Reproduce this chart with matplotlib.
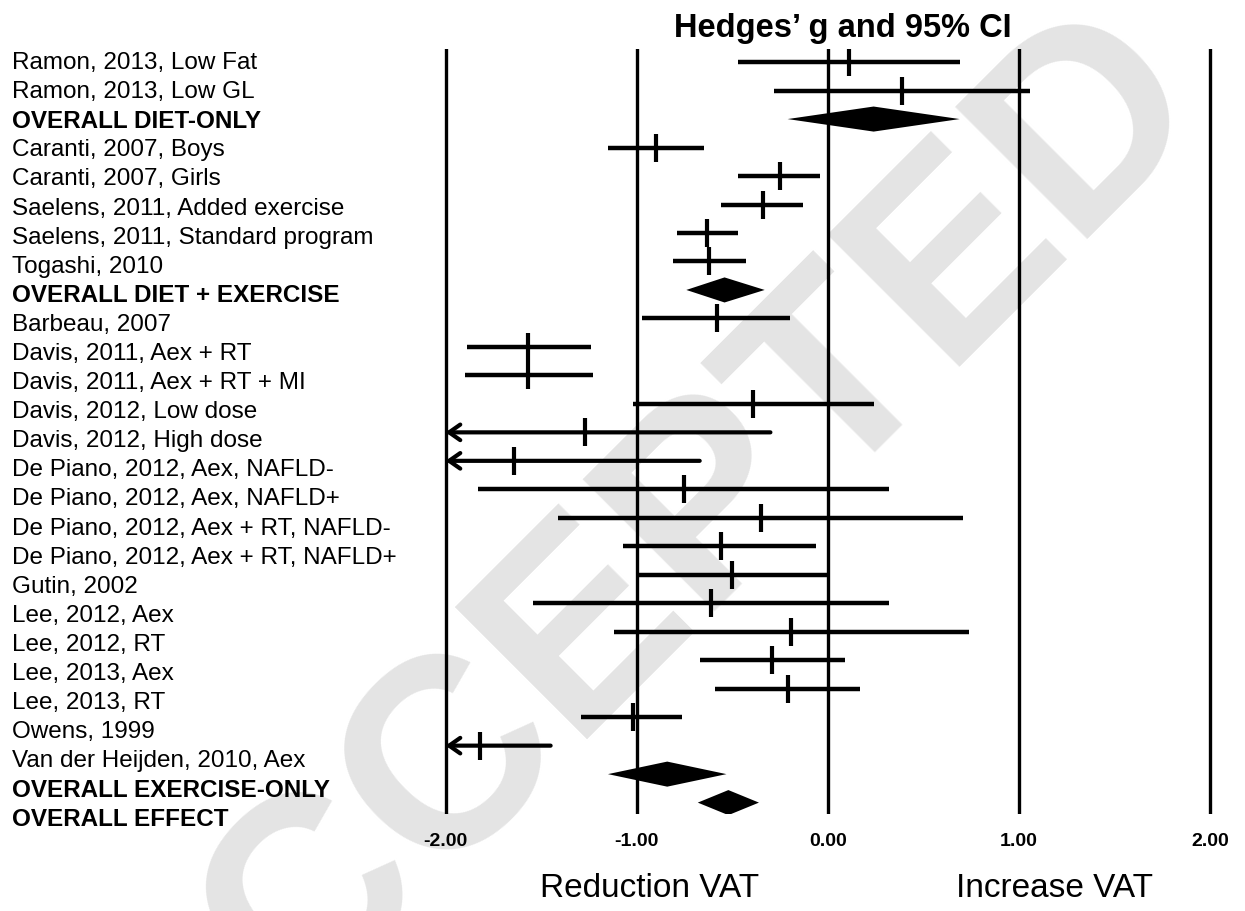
import matplotlib
matplotlib.use("Agg")
import matplotlib.pyplot as plt
import numpy as np

# study labels, top to bottom
labels = [
    "Ramon, 2013, Low Fat", "Ramon, 2013, Low GL", "OVERALL DIET-ONLY",
    "Caranti, 2007, Boys", "Caranti, 2007, Girls", "Saelens, 2011, Added exercise",
    "Saelens, 2011, Standard program", "Togashi, 2010", "OVERALL DIET + EXERCISE",
    "Barbeau, 2007", "Davis, 2011, Aex + RT", "Davis, 2011, Aex + RT + MI",
    "Davis, 2012, Low dose", "Davis, 2012, High dose", "De Piano, 2012, Aex, NAFLD-",
    "De Piano, 2012, Aex, NAFLD+", "De Piano, 2012, Aex + RT, NAFLD-",
    "De Piano, 2012, Aex + RT, NAFLD+", "Gutin, 2002", "Lee, 2012, Aex", "Lee, 2012, RT",
    "Lee, 2013, Aex", "Lee, 2013, RT", "Owens, 1999", "Van der Heijden, 2010, Aex",
    "OVERALL EXERCISE-ONLY", "OVERALL EFFECT",
]
# Hedges' g and 95% CI (lower values past -2 are drawn as arrows)
g = [0.11, 0.39, 0.24, -0.90, -0.25, -0.34, -0.63, -0.62, -0.54, -0.58, -1.57, -1.57,
     -0.39, -1.27, -1.64, -0.75, -0.35, -0.56, -0.50, -0.61, -0.19, -0.29, -0.21,
     -1.02, -1.82, -0.84, -0.52]
lo = [-0.47, -0.28, -0.21, -1.15, -0.47, -0.56, -0.79, -0.81, -0.74, -0.97, -1.89, -1.90,
      -1.02, -2.24, -2.61, -1.83, -1.41, -1.07, -0.99, -1.54, -1.12, -0.67, -0.59,
      -1.29, -2.19, -1.15, -0.68]
hi = [0.69, 1.06, 0.69, -0.65, -0.04, -0.13, -0.47, -0.43, -0.33, -0.20, -1.24, -1.23,
      0.24, -0.30, -0.67, 0.32, 0.71, -0.06, 0.00, 0.32, 0.74, 0.09, 0.17,
      -0.76, -1.45, -0.53, -0.36]
is_overall = [lab.startswith("OVERALL") for lab in labels]
xticks = [-2, -1, 0, 1, 2]
xtick_labels = ["-2.00", "-1.00", "0.00", "1.00", "2.00"]

W, H = 1245, 912
fig = plt.figure(figsize=(W / 100, H / 100), dpi=100)
ax = fig.add_axes([426.4 / W, 1 - 815 / H, 802.7 / W, 765 / H])
ax.patch.set_visible(False)
ax.set_xlim(-2.1, 2.1)
ax.set_ylim(26.4, -0.46)

for xv in xticks:
    ax.axvline(xv, color="black", lw=2.4, zorder=1)

xmin = -2.0
for i in range(len(labels)):
    if is_overall[i]:
        ax.fill([lo[i], g[i], hi[i], g[i]], [i, i - 0.44, i, i + 0.44],
                color="black", lw=0, zorder=3)
        continue
    if lo[i] < xmin:
        ax.annotate("", xy=(xmin, i), xytext=(hi[i], i),
                    arrowprops=dict(arrowstyle="->,head_length=0.4,head_width=0.28",
                                    lw=3.0, color="black", shrinkA=0, shrinkB=0,
                                    mutation_scale=20), zorder=3)
    else:
        ax.plot([lo[i], hi[i]], [i, i], color="black", lw=3.2,
                solid_capstyle="butt", zorder=3)
    ax.plot(g[i], i, marker="|", ms=20, mew=3, color="black", zorder=4)

ax.set_xticks(xticks)
ax.set_xticklabels(xtick_labels, fontsize=14, fontweight="bold",
                   family=["Liberation Sans Narrow", "Liberation Sans"])
ax.tick_params(axis="x", length=0, pad=13)
ax.set_yticks([])
for s in ax.spines.values():
    s.set_visible(False)

for i, lab in enumerate(labels):
    fig.text(12 / W, 1 - (63 + 29.1 * i) / H, lab, fontsize=17.5,
             fontweight="bold" if is_overall[i] else "normal",
             family="Liberation Sans", va="center", ha="left")

fig.text(843 / W, 1 - 29 / H, "Hedges\u2019 g and 95% CI", fontsize=23.5,
         fontweight="bold", family=["Liberation Sans Narrow", "Liberation Sans"],
         ha="center", va="center")
fig.text(650 / W, 1 - 889 / H, "Reduction VAT", fontsize=24,
         family="Liberation Sans", ha="center", va="center")
fig.text(1054 / W, 1 - 889 / H, "Increase VAT", fontsize=24,
         family="Liberation Sans", ha="center", va="center")

# faint journal watermark behind everything
fig.text(635 / W, 1 - 585 / H, "ACCEPTED", fontsize=195, fontweight="bold",
         family="Liberation Sans", color="#e4e4e4", rotation=45,
         ha="center", va="center", zorder=-1)

fig.savefig("out.png", dpi=100)
